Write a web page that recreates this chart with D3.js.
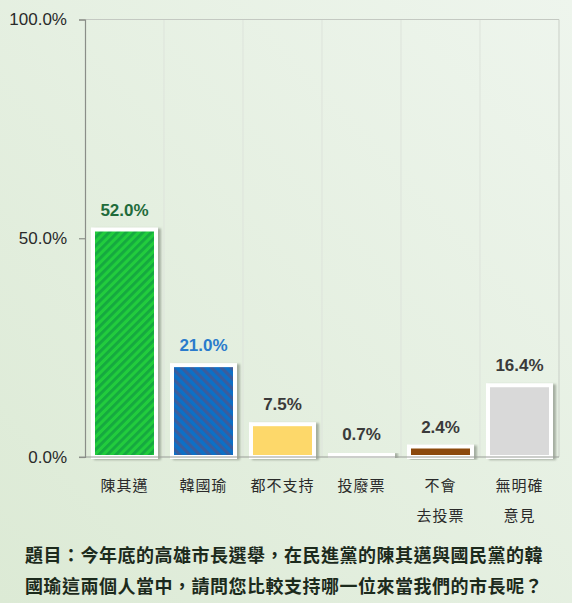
<!DOCTYPE html>
<html><head><meta charset="utf-8">
<script src="https://cdn.jsdelivr.net/npm/d3@7/dist/d3.min.js"></script>
<style>html,body{margin:0;padding:0;overflow:hidden;background:#e8f1e5}</style>
</head><body>
<script>
const categories = ["陳其邁", "韓國瑜", "都不支持", "投廢票", "不會\n去投票", "無明確\n意見"];
const values = [52.0, 21.0, 7.5, 0.7, 2.4, 16.4];
const yTicks = [0, 50, 100];
const titleLines = ["題目：今年底的高雄市長選舉，在民進黨的陳其邁與國民黨的韓", "國瑜這兩個人當中，請問您比較支持哪一位來當我們的市長呢？"];

const W = 572, H = 603;
const barFills = ["url(#pGreen)", "url(#pBlue)", "#fdd86b", "#ffffff", "#8c4a0b", "#d9d9d9"];
const labelColors = ["#1f6b3b", "#2a7bcc", "#3a3a3a", "#3a3a3a", "#3a3a3a", "#3a3a3a"];

const svg = d3.select("body").append("svg").attr("width", W).attr("height", H);
const defs = svg.append("defs");

const bg = defs.append("linearGradient").attr("id", "bg").attr("x1", "0").attr("y1", "1").attr("x2", "1").attr("y2", "0");
bg.append("stop").attr("offset", "0").attr("stop-color", "#dcead5");
bg.append("stop").attr("offset", "1").attr("stop-color", "#eef5ed");

const pg = defs.append("pattern").attr("id", "pGreen").attr("patternUnits", "userSpaceOnUse")
  .attr("width", 6).attr("height", 6).attr("patternTransform", "rotate(45)");
pg.append("rect").attr("width", 6).attr("height", 6).attr("fill", "#22cc3c");
pg.append("rect").attr("width", 2.8).attr("height", 6).attr("fill", "#13a83f");

const pb = defs.append("pattern").attr("id", "pBlue").attr("patternUnits", "userSpaceOnUse")
  .attr("width", 7).attr("height", 7).attr("patternTransform", "rotate(-45)");
pb.append("rect").attr("width", 7).attr("height", 7).attr("fill", "#0c6fc6");
pb.append("rect").attr("width", 3.2).attr("height", 7).attr("fill", "#3b5c9c");

const sh = defs.append("filter").attr("id", "shadow").attr("x", "-20%").attr("y", "-20%").attr("width", "140%").attr("height", "140%");
sh.append("feDropShadow").attr("dx", 3).attr("dy", 1).attr("stdDeviation", 1.2)
  .attr("flood-color", "#6f7a6c").attr("flood-opacity", 0.55);

svg.append("rect").attr("width", W).attr("height", H).attr("fill", "url(#bg)");

const x = d3.scaleBand().domain(categories).range([85, 559]).padding(0);
const y = d3.scaleLinear().domain([0, 100]).range([457, 19.5]);

// grid
const g = svg.append("g");
const bounds = categories.map(c => x(c) + x.bandwidth());
g.selectAll("line.v").data(bounds).enter().append("line")
  .attr("x1", d => d).attr("x2", d => d).attr("y1", y(100)).attr("y2", y(0))
  .attr("stroke", (d, i) => i === bounds.length - 1 ? "#c9cfc7" : "#dde3db").attr("stroke-width", 1);
g.append("line").attr("x1", 85).attr("x2", 559).attr("y1", y(100)).attr("y2", y(100))
  .attr("stroke", "#c4c9c2").attr("stroke-width", 1.2);

// bars
const pad = 8;
svg.append("g").selectAll("rect").data(values).enter().append("rect")
  .attr("x", (d, i) => x(categories[i]) + pad)
  .attr("width", x.bandwidth() - 2 * pad)
  .attr("y", d => y(d))
  .attr("height", d => y(0) - y(d))
  .attr("fill", (d, i) => barFills[i])
  .attr("stroke", "#ffffff").attr("stroke-width", 4)
  .attr("filter", "url(#shadow)");

// bottom axis line
svg.append("line").attr("x1", 79).attr("x2", 559).attr("y1", y(0)).attr("y2", y(0))
  .attr("stroke", "#9a9e98").attr("stroke-width", 1.2);

// y axis
const yAxis = svg.append("g").attr("transform", "translate(85,0)")
  .call(d3.axisLeft(y).tickValues(yTicks).tickFormat(d => d.toFixed(1) + "%").tickSize(6).tickPadding(12));
yAxis.select(".domain").attr("stroke", "#8a8e88").attr("stroke-width", 1.2);
yAxis.selectAll(".tick line").attr("stroke", "#8a8e88").attr("stroke-width", 1.2);
yAxis.selectAll(".tick text").attr("fill", "#2a2a2a")
  .style("font-family", "'Liberation Sans', Arial, sans-serif").style("font-size", "17px");

// value labels
svg.append("g").selectAll("text").data(values).enter().append("text")
  .attr("x", (d, i) => x(categories[i]) + x.bandwidth() / 2)
  .attr("y", d => y(d) - 14)
  .attr("text-anchor", "middle")
  .attr("fill", (d, i) => labelColors[i])
  .style("font-family", "'Liberation Sans', Arial, sans-serif")
  .style("font-size", "17px").style("font-weight", "bold")
  .text(d => d.toFixed(1) + "%");

// category labels
const cl = svg.append("g").selectAll("text").data(categories).enter().append("text")
  .attr("x", d => x(d) + x.bandwidth() / 2)
  .attr("y", 491)
  .attr("text-anchor", "middle")
  .attr("fill", "#2a2a2a")
  .style("font-family", "'Noto Sans CJK TC', sans-serif")
  .style("font-size", "15px").style("letter-spacing", "1px");
cl.each(function(d) {
  const t = d3.select(this);
  d.split("\n").forEach((ln, k) => {
    t.append("tspan").attr("x", x(d) + x.bandwidth() / 2).attr("dy", k === 0 ? 0 : 30).text(ln);
  });
});

// title
svg.append("g").selectAll("text").data(titleLines).enter().append("text")
  .attr("x", 25).attr("y", (d, i) => 562 + i * 31)
  .attr("fill", "#1c2a1c")
  .style("font-family", "'Noto Sans CJK TC', sans-serif")
  .style("font-size", "18px").style("font-weight", "bold").style("letter-spacing", "0.5px")
  .text(d => d);
</script>
</body></html>
